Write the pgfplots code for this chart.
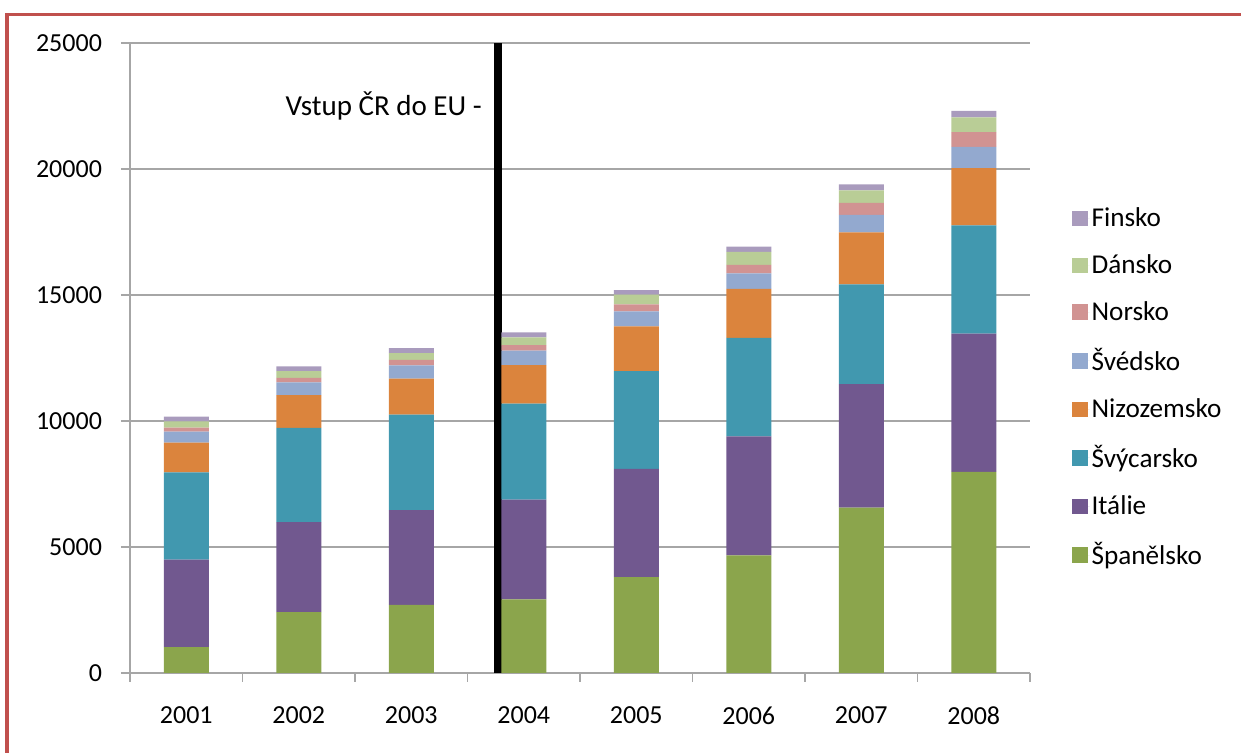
\documentclass[border=0pt]{standalone}
\usepackage{fontspec}
\setmainfont{Carlito}
\usepackage{pgfplots}
\usepackage{pgfplotstable}
\pgfplotsset{compat=1.18}

\definecolor{cSp}{HTML}{8BA54C}
\definecolor{cIt}{HTML}{71588F}
\definecolor{cSvy}{HTML}{4198AF}
\definecolor{cNi}{HTML}{DB843D}
\definecolor{cSve}{HTML}{93A9CF}
\definecolor{cNo}{HTML}{D19392}
\definecolor{cDa}{HTML}{B9CD96}
\definecolor{cFi}{HTML}{A99BBD}
\definecolor{cGrid}{HTML}{A6A6A6}
\definecolor{cFrame}{HTML}{C0504D}

% increments per country, stacked from the bottom
\pgfplotstableread{
idx rok  Sp   It   Svy  Ni   Sve  No   Da   Fi
0   2001 1030 3470 3460 1180 440  160  240  190
1   2002 2420 3570 3740 1300 500  180  270  190
2   2003 2700 3760 3790 1430 530  220  260  200
3   2004 2925 3950 3810 1535 570  225  305  200
4   2005 3800 4300 3880 1770 595  280  385  185
5   2006 4670 4720 3910 1945 610  345  515  200
6   2007 6560 4900 3960 2060 700  480  490  240
7   2008 7980 5490 4290 2270 850  585  585  255
}\data

\begin{document}
\begin{tikzpicture}
\useasboundingbox (-65pt,-40pt) rectangle (555.5pt,336.5pt);
\draw[cFrame, line width=1.7pt] (-61.5pt,-45pt) -- (-61.5pt,329.2pt) -- (560pt,329.2pt);
\begin{axis}[
    at={(0pt,0pt)}, anchor=south west,
    scale only axis, width=450pt, height=315pt,
    ybar stacked, bar width=22.5pt,
    xmin=-0.5, xmax=7.5, ymin=0, ymax=25000,
    axis x line*=bottom, axis y line*=left,
    axis line style={cGrid, line width=0.8pt},
    xtick={-0.5,0.5,...,7.5},
    x tick label as interval=true,
    xticklabels={2001,2002,2003,2004,2005,2006,2007,2008},
    ytick={0,5000,10000,15000,20000,25000},
    scaled y ticks=false,
    /pgf/number format/1000 sep={},
    /pgf/number format/assume math mode=true,
    tick align=outside, major tick length=4.5pt,
    tick style={cGrid, line width=0.8pt},
    ymajorgrids, grid style={cGrid, line width=0.8pt},
    ticklabel style={font=\fontsize{13}{15}\selectfont},
    xticklabel style={yshift=-9pt},
    yticklabel style={xshift=-6pt},
    reverse legend,
    legend cell align=left,
    legend style={draw=none, fill=none, at={(1.04,0.453)}, anchor=west,
        font=\fontsize{13.6}{15}\selectfont, row sep=10.5pt,
        nodes={inner sep=1pt}},
    legend image code/.code={\fill[#1] (0pt,-3.9pt) rectangle (7.8pt,3.9pt);
        \path (0pt,0pt) -- (8.6pt,0pt);},
    every axis plot/.append style={draw=none},
]
\addplot[fill=cSp]  table[x=idx, y=Sp]  {\data};
\addplot[fill=cIt]  table[x=idx, y=It]  {\data};
\addplot[fill=cSvy] table[x=idx, y=Svy] {\data};
\addplot[fill=cNi]  table[x=idx, y=Ni]  {\data};
\addplot[fill=cSve] table[x=idx, y=Sve] {\data};
\addplot[fill=cNo]  table[x=idx, y=No]  {\data};
\addplot[fill=cDa]  table[x=idx, y=Da]  {\data};
\addplot[fill=cFi]  table[x=idx, y=Fi]  {\data};
\legend{Španělsko, Itálie, Švýcarsko, Nizozemsko, Švédsko, Norsko, Dánsko, Finsko}
\draw[black, line width=4pt] (axis cs:2.774,-150) -- (axis cs:2.774,25000);
\node[anchor=base east, font=\fontsize{14.5}{16}\selectfont, inner sep=0pt]
    at (axis cs:2.63,22140) {Vstup ČR do EU -};
\end{axis}
\end{tikzpicture}
\end{document}
